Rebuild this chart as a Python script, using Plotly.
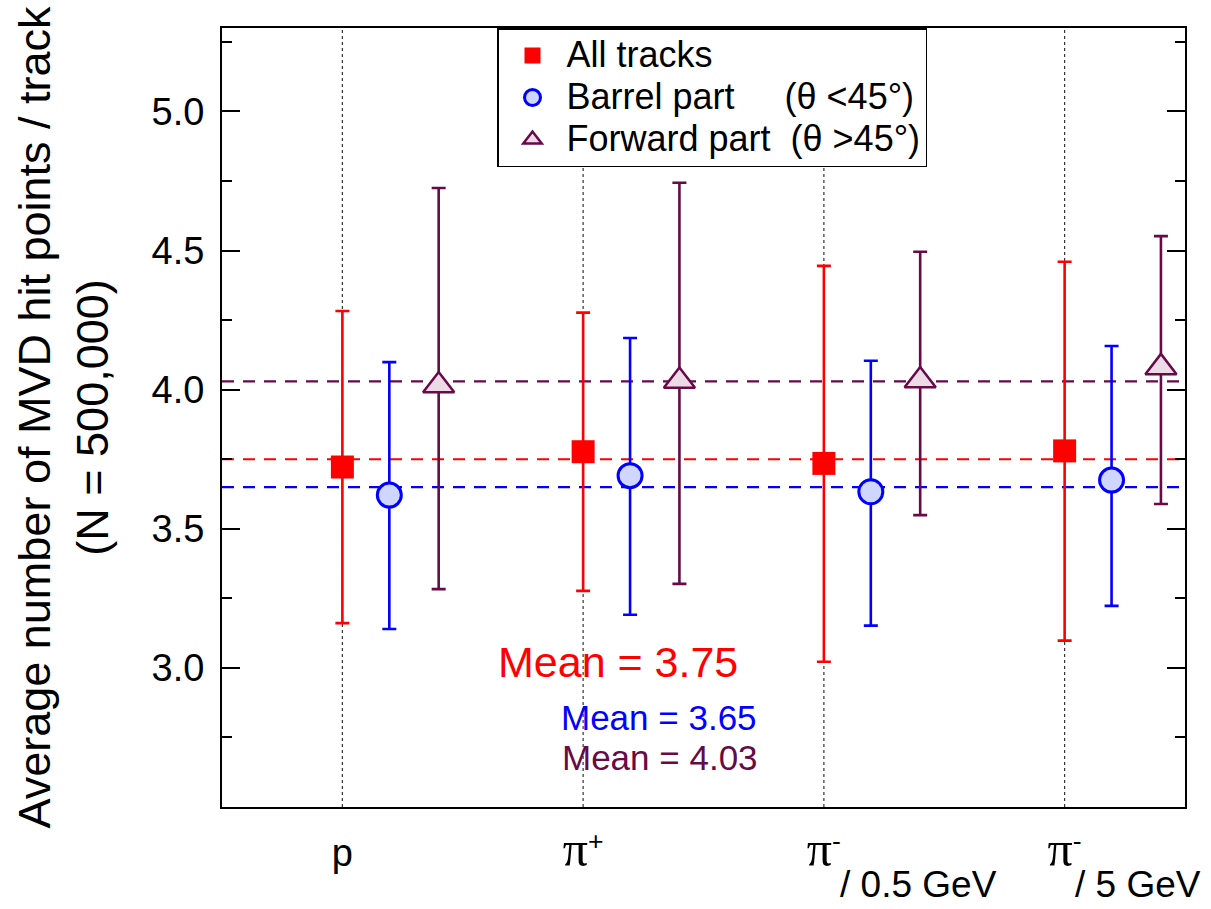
import plotly.graph_objects as go

# ---------------- data ----------------
categories = [1, 2, 3, 4]
PI = "<span style='font-family:Liberation Serif;font-size:50px'>π</span>"
tick_labels = ["p", PI + "<sup>+</sup>", PI + "<sup>-</sup>", PI + "<sup>-</sup>"]
sub_labels = ["", "", "/ 0.5 GeV", "/ 5 GeV"]
sub_label_x = [0, 0, 3.395, 4.305]

all_val = [3.722, 3.777, 3.735, 3.780]
all_hi = [4.283, 4.277, 4.445, 4.460]
all_lo = [3.161, 3.277, 3.022, 3.098]

barrel_val = [3.621, 3.691, 3.633, 3.675]
barrel_hi = [4.099, 4.186, 4.104, 4.157]
barrel_lo = [3.140, 3.191, 3.152, 3.223]

fwd_val = [4.015, 4.031, 4.033, 4.080]
fwd_hi = [4.725, 4.744, 4.496, 4.552]
fwd_lo = [3.283, 3.302, 3.549, 3.589]

y_tick_vals = [3.0, 3.5, 4.0, 4.5, 5.0]

means = [3.75, 3.65, 4.03]
mean_labels = ["Mean = 3.75", "Mean = 3.65", "Mean = 4.03"]
LS = "<span style='font-size:36px'>"
series_names = [LS + "All tracks</span>",
                LS + "Barrel part&nbsp;&nbsp;&nbsp;&nbsp;&nbsp;(θ &lt;45°)</span>",
                LS + "Forward part&nbsp;&nbsp;(θ &gt;45°)</span>"]

# ---------------- styles ----------------
RED = "#ff0000"
BLUE = "#0000ff"
PURPLE = "#660a48"
colors = [RED, BLUE, PURPLE]
offsets = [0.0, 0.195, 0.40]
FONT = "Liberation Sans, Arial, sans-serif"

W, H = 1211, 909
ML, MR, MT, MB = 222, 26, 28, 102
PLOT_L, PLOT_T, PLOT_W, PLOT_H = ML, MT, W - ML - MR, H - MT - MB


def px_to_paper_x(px):
    return (px - PLOT_L) / PLOT_W


def py_to_paper_y(py):
    return 1 - (py - PLOT_T) / PLOT_H


fig = go.Figure()

# vertical dotted category lines
for c in categories:
    fig.add_shape(type="line", xref="x", yref="paper", x0=c, x1=c, y0=0, y1=1,
                  line=dict(color="#333333", width=1.2, dash="dot"), layer="below")

# mean dashed lines
for m, col in zip(means, colors):
    fig.add_shape(type="line", xref="paper", yref="y", x0=0, x1=1, y0=m, y1=m,
                  line=dict(color=col, width=2.2, dash="12px,9px"), layer="below")

series = [
    (all_val, all_hi, all_lo, dict(symbol="square", size=23, color=RED,
                                   line=dict(width=0))),
    (barrel_val, barrel_hi, barrel_lo, dict(symbol="circle", size=24, color="#cfd6ff",
                                            line=dict(width=3, color=BLUE))),
    (fwd_val, fwd_hi, fwd_lo, dict(symbol="triangle-up", size=27, color="#ecdbe6",
                                   line=dict(width=2.5, color=PURPLE))),
]

for (val, hi, lo, mk), name, col, off in zip(series, series_names, colors, offsets):
    fig.add_trace(go.Scatter(
        x=[c + off for c in categories], y=val, mode="markers", name=name,
        marker=mk,
        error_y=dict(type="data", symmetric=False,
                     array=[h - v for h, v in zip(hi, val)],
                     arrayminus=[v - l for v, l in zip(val, lo)],
                     color=col, thickness=2.6, width=7),
    ))

# mean annotations
mean_pos = [(618, 662, 43), (659, 717, 35), (660, 757, 35)]
for txt, col, (px, py, fs) in zip(mean_labels, colors, mean_pos):
    fig.add_annotation(x=px_to_paper_x(px), y=py_to_paper_y(py), xref="paper", yref="paper",
                       text=txt, showarrow=False, xanchor="center", yanchor="middle",
                       font=dict(family=FONT, size=fs, color=col))

# sub labels under x ticks
for sx, st in zip(sub_label_x, sub_labels):
    if st:
        fig.add_annotation(x=sx, y=py_to_paper_y(884), xref="x", yref="paper",
                           text=st, showarrow=False, xanchor="center", yanchor="middle",
                           font=dict(family=FONT, size=37, color="black"))

# y-axis title
fig.add_annotation(x=px_to_paper_x(63), y=0.5, xref="paper", yref="paper",
                   text="Average number of MVD hit points / track<br>(N = 500,000)",
                   textangle=-90, showarrow=False, xanchor="center", yanchor="middle",
                   font=dict(family=FONT, size=45, color="black"))

fig.update_layout(
    width=W, height=H,
    margin=dict(l=ML, r=MR, t=MT, b=MB, autoexpand=False),
    paper_bgcolor="white", plot_bgcolor="white",
    font=dict(family=FONT, color="black"),
    showlegend=True,
    legend=dict(x=px_to_paper_x(497), y=1.0, xanchor="left", yanchor="top",
                bordercolor="black", borderwidth=1.5, bgcolor="white",
                font=dict(family=FONT, size=30, color="black"),
                itemwidth=58, tracegroupgap=0),
    xaxis=dict(range=[0.5, 4.5], tickmode="array", tickvals=categories, ticktext=tick_labels,
               showline=True, mirror=True, linecolor="black", linewidth=2,
               ticks="", showgrid=False, zeroline=False, automargin=False,
               tickfont=dict(family=FONT, size=38, color="black"), ticklabelstandoff=11),
    yaxis=dict(range=[2.5, 5.3], tickmode="array", tickvals=y_tick_vals, tickformat=".1f",
               showline=True, mirror="ticks", linecolor="black", linewidth=2,
               ticks="inside", ticklen=18, tickwidth=1.5, tickcolor="black",
               minor=dict(tick0=0.25, dtick=0.5, ticks="inside", ticklen=10,
                          tickwidth=1.5, tickcolor="black"),
               showgrid=False, zeroline=False, automargin=False,
               tickfont=dict(family=FONT, size=38, color="black"), ticklabelstandoff=8),
)

# remove the default page margin so the 1211x909 figure fills the window exactly
fig.write_html("out.html", config={"displayModeBar": False},
               post_script="document.body.style.margin='0';")
